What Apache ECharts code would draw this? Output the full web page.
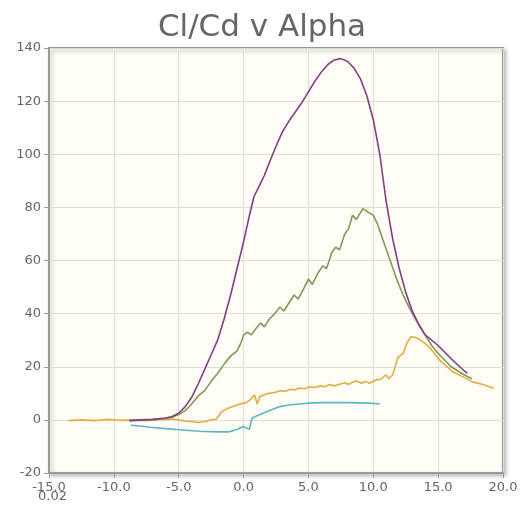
<!DOCTYPE html>
<html>
<head>
<meta charset="utf-8">
<script src="https://cdn.jsdelivr.net/npm/echarts@6/dist/echarts.min.js"></script>
<style>
  html, body { margin: 0; padding: 0; background: #fff; }
  #chart { width: 524px; height: 518px; }
</style>
</head>
<body>
<div id="chart"></div>
<script>
// purple
var alphaP = [-8.8, -8, -7, -6, -5.5, -5, -4.5, -4, -3.5, -3, -2.5, -2, -1.5, -1, -0.5, 0, 0.5, 0.8, 1.2, 1.6, 2, 2.5, 3, 3.5, 4, 4.5, 5, 5.5, 6, 6.5, 7, 7.5, 8, 8.5, 9, 9.5, 10, 10.5, 11, 11.5, 12, 12.5, 13, 13.5, 14, 15, 16, 17, 17.25];
var clcdP = [-0.3, 0, 0.2, 0.7, 1.3, 2.5, 5, 8.5, 13.5, 19, 24.5, 30, 38, 47, 57, 67, 78, 84, 88, 92, 97, 103, 108.5, 112.5, 116, 119.5, 123.5, 127.5, 131, 133.8, 135.5, 136, 135, 132.5, 128.5, 122, 113, 100, 82, 68, 57, 48, 41, 36, 32, 28, 23, 18.5, 17.5];
// green
var alphaG = [-8.8, -7, -6, -5.5, -5, -4.5, -4, -3.5, -3, -2.5, -2, -1.5, -1, -0.5, -0.2, 0, 0.3, 0.6, 0.9, 1.3, 1.6, 2, 2.4, 2.8, 3.1, 3.5, 3.9, 4.2, 4.6, 5, 5.3, 5.7, 6.1, 6.4, 6.8, 7.1, 7.4, 7.8, 8.1, 8.4, 8.7, 9.2, 9.5, 10, 10.3, 10.8, 11.3, 11.8, 12.3, 12.8, 13.3, 13.8, 14.5, 15, 16, 17, 17.6];
var clcdG = [-0.3, 0, 0.5, 1, 2, 3.5, 6, 9, 11, 14.5, 17.5, 21, 24, 26, 29, 32, 33, 32, 34, 36.5, 35, 38, 40, 42.5, 41, 44, 47, 45.5, 49, 53, 51, 55, 58, 57, 63, 65, 64, 70, 72, 77, 75.5, 79.5, 78.5, 77, 74, 67, 60, 53, 47, 42, 37.5, 33.5, 28, 25, 20, 17, 15.5];
// orange
var alphaO = [-13.5, -12.5, -11.5, -10.5, -9.5, -8.5, -7.5, -6.5, -5.5, -5, -4.5, -4, -3.5, -3, -2.5, -2.1, -1.7, -1.2, -0.8, -0.3, 0.2, 0.5, 0.85, 1.05, 1.25, 1.6, 2, 2.4, 2.8, 3.2, 3.6, 4, 4.3, 4.7, 5.1, 5.5, 5.9, 6.3, 6.6, 7, 7.4, 7.8, 8.1, 8.4, 8.7, 9.1, 9.4, 9.7, 10.2, 10.6, 10.97, 11.2, 11.5, 11.9, 12.3, 12.6, 12.9, 13.3, 13.8, 14.3, 15.1, 16.1, 17, 17.6, 18.5, 19.3];
var clcdO = [-0.3, 0, -0.3, 0.2, -0.2, 0, -0.3, 0.2, 0.3, 0, -0.5, -0.6, -1, -0.6, 0, 0.3, 3, 4.4, 5, 6, 6.5, 7.5, 9.4, 6, 8.8, 9.5, 10, 10.3, 11, 10.8, 11.5, 11.3, 12, 11.7, 12.5, 12.2, 12.8, 12.5, 13.3, 12.8, 13.4, 14, 13.3, 14.2, 14.6, 13.8, 14.5, 13.8, 15, 15.3, 17, 15.5, 17, 23.5, 25, 29, 31.3, 31, 29.5, 27.5, 22.6, 18.2, 16, 14.4, 13.2, 11.9];
// cyan
var alphaC = [-8.7, -8, -7.2, -6, -4.7, -3.4, -2, -1.1, -0.5, -0.05, 0.45, 0.65, 1, 1.5, 2, 2.8, 3.5, 4.3, 5, 6, 7, 8, 9, 10, 10.5];
var clcdC = [-2, -2.3, -2.8, -3.3, -3.8, -4.3, -4.5, -4.5, -3.6, -2.5, -3.5, 0.6, 1.5, 2.5, 3.5, 5, 5.6, 6, 6.3, 6.5, 6.5, 6.5, 6.4, 6.2, 6];

var xTicks = [-15, -10, -5, 0, 5, 10, 15, 20];
var yTicks = [-20, 0, 20, 40, 60, 80, 100, 120, 140];

function pairs(xs, ys) {
  return xs.map(function (x, i) { return [x, ys[i]]; });
}

var myChart = echarts.init(document.getElementById('chart'));
var textColor = '#666';
var option = {
  animation: false,
  title: {
    text: 'Cl/Cd v Alpha',
    left: 'center',
    top: 7,
    padding: [5, 0, 5, 10],
    textStyle: { fontFamily: 'DejaVu Sans', fontSize: 31, fontWeight: 'normal', color: '#666' }
  },
  grid: {
    left: 49, right: 21, top: 48, bottom: 45,
    show: true,
    backgroundColor: '#fffdf5',
    borderColor: '#999',
    borderWidth: 2,
    shadowColor: 'rgba(0,0,0,0.25)',
    shadowBlur: 4,
    shadowOffsetX: 2,
    shadowOffsetY: 2
  },
  xAxis: {
    type: 'value',
    min: xTicks[0], max: xTicks[xTicks.length - 1], interval: 5,
    axisLine: { show: true, onZero: false, lineStyle: { color: '#999', width: 2 } },
    axisTick: { show: true, length: 5, lineStyle: { color: '#999' } },
    axisLabel: {
      margin: 8, color: textColor, fontSize: 13, fontFamily: 'DejaVu Sans',
      formatter: function (v) { return v.toFixed(1); }
    },
    splitLine: { show: true, lineStyle: { color: '#ddd' } }
  },
  yAxis: {
    type: 'value',
    min: yTicks[0], max: yTicks[yTicks.length - 1], interval: 20,
    axisLine: { show: true, onZero: false, lineStyle: { color: '#999', width: 2 } },
    axisTick: { show: true, length: 5, lineStyle: { color: '#999' } },
    axisLabel: { margin: 8, color: textColor, fontSize: 13, fontFamily: 'DejaVu Sans' },
    splitLine: { show: true, lineStyle: { color: '#ddd' } }
  },
  graphic: [{
    type: 'text', left: 38, top: 490,
    style: { text: '0.02', fill: textColor, fontSize: 13, fontFamily: 'DejaVu Sans' }
  }],
  series: [
    { type: 'line', data: pairs(alphaO, clcdO), showSymbol: false, lineStyle: { color: '#e5ac45', width: 1.6 }, itemStyle: { color: '#e5ac45' } },
    { type: 'line', data: pairs(alphaC, clcdC), showSymbol: false, lineStyle: { color: '#5db6c6', width: 1.6 }, itemStyle: { color: '#5db6c6' } },
    { type: 'line', data: pairs(alphaG, clcdG), showSymbol: false, lineStyle: { color: '#80995a', width: 1.6 }, itemStyle: { color: '#80995a' } },
    { type: 'line', data: pairs(alphaP, clcdP), showSymbol: false, lineStyle: { color: '#853f80', width: 1.6 }, itemStyle: { color: '#853f80' } }
  ]
};
myChart.setOption(option);
</script>
</body>
</html>
